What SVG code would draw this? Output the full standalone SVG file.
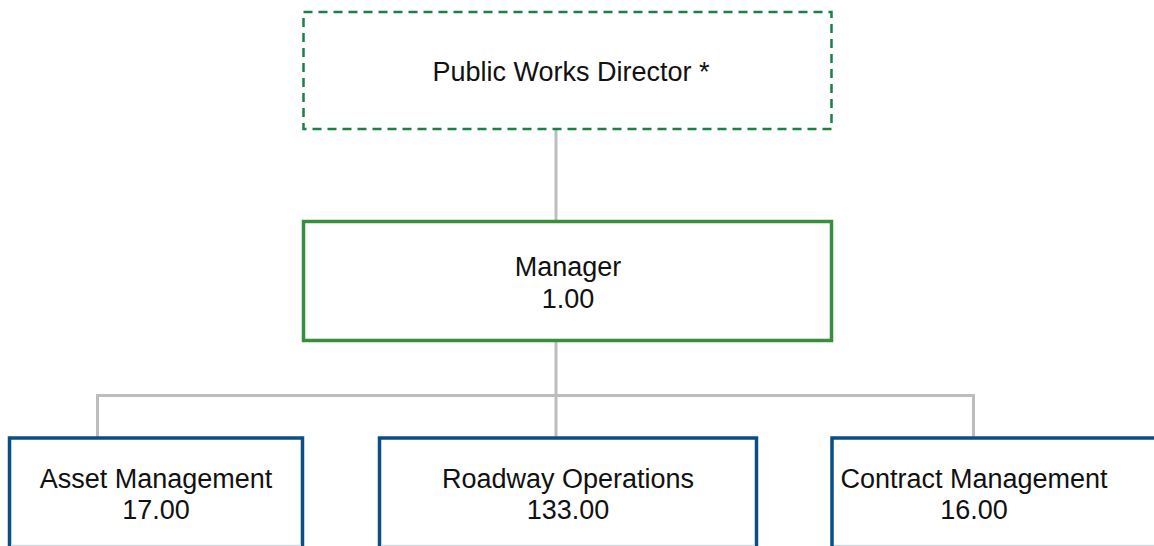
<svg xmlns="http://www.w3.org/2000/svg" width="1154" height="546" viewBox="0 0 1154 546">
  <style>
    .lbl { font-family: "Liberation Sans", Arial, sans-serif; font-size: 27px; fill: #111111; text-anchor: middle; }
    .dir { fill: #ffffff; stroke: #1b8043; stroke-width: 2.5; stroke-dasharray: 9 6; }
    .mgr { fill: #ffffff; stroke: #388e3c; stroke-width: 3.5; }
    .unit { fill: #ffffff; stroke: #0b4d85; stroke-width: 3.5; }
    .edge { fill: none; stroke: #bdbdbd; stroke-width: 3; }
    .base { stroke: #d0d8e0; stroke-width: 1.5; }
  </style>

  <!-- reporting lines -->
  <g id="connectors">
    <line class="edge" x1="556" y1="129" x2="556" y2="221"/>
    <line class="edge" x1="556" y1="341" x2="556" y2="437"/>
    <polyline class="edge" points="97.5,437 97.5,395.5 973.5,395.5 973.5,437"/>
  </g>

  <g id="director">
    <rect class="dir" x="303.5" y="12" width="528" height="117"/>
    <text class="lbl" x="571" y="81">Public Works Director *</text>
  </g>

  <g id="manager">
    <rect class="mgr" x="303.5" y="221.5" width="528" height="119"/>
    <text class="lbl" x="568" y="276">Manager</text>
    <text class="lbl" x="568" y="308">1.00</text>
  </g>

  <g id="asset-management">
    <rect class="unit" x="9.5" y="438" width="293" height="120"/>
    <line class="base" x1="11" y1="545.5" x2="301" y2="545.5"/>
    <text class="lbl" x="156" y="488">Asset Management</text>
    <text class="lbl" x="156" y="519">17.00</text>
  </g>

  <g id="roadway-operations">
    <rect class="unit" x="379.5" y="438" width="377" height="120"/>
    <line class="base" x1="381" y1="545.5" x2="755" y2="545.5"/>
    <text class="lbl" x="568" y="488">Roadway Operations</text>
    <text class="lbl" x="568" y="519">133.00</text>
  </g>

  <g id="contract-management">
    <rect class="unit" x="832" y="438" width="340" height="120"/>
    <line class="base" x1="834" y1="545.5" x2="1154" y2="545.5"/>
    <text class="lbl" x="974" y="488">Contract Management</text>
    <text class="lbl" x="974" y="519">16.00</text>
  </g>
</svg>
